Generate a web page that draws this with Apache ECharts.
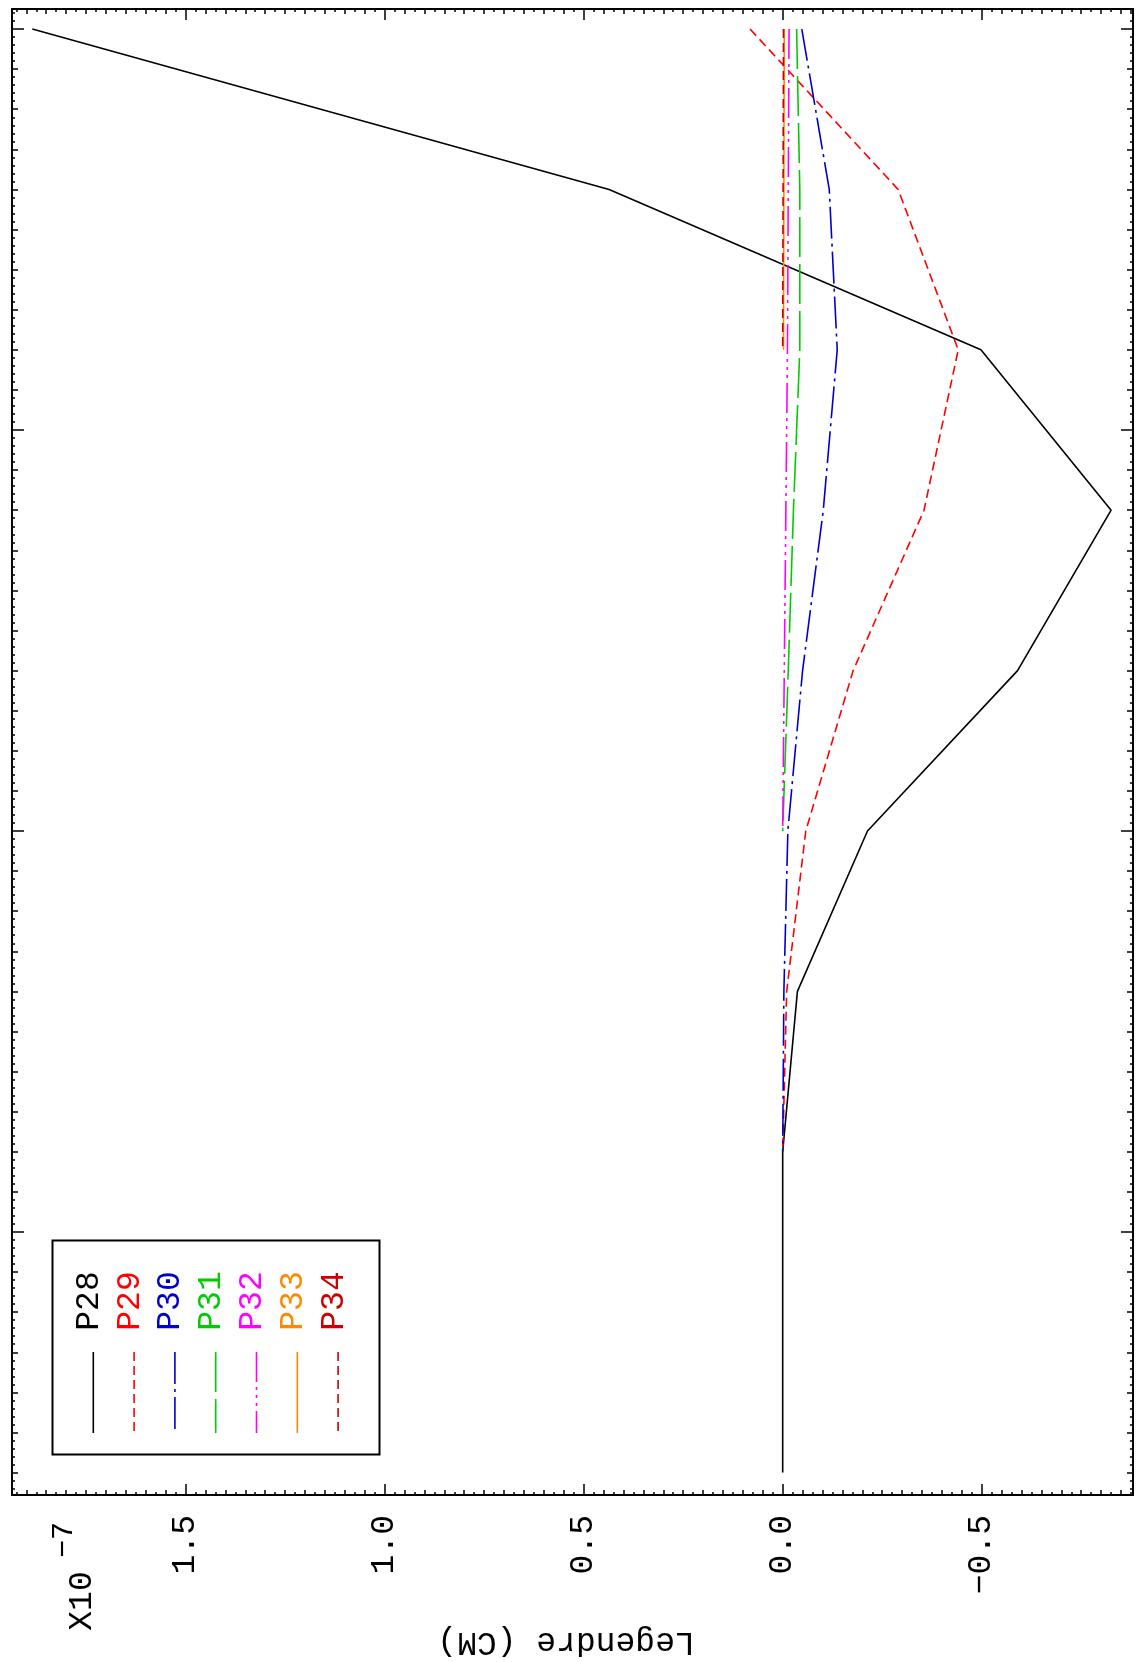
<!DOCTYPE html>
<html><head><meta charset="utf-8">
<script src="https://cdn.jsdelivr.net/npm/echarts@6/dist/echarts.min.js"></script>
<style>html,body{margin:0;padding:0;background:#fff}#c{width:1136px;height:1662px}</style>
</head><body><div id="c"></div>
<script>
// index positions (vertical axis, arbitrary units, top = highest)
const xVals = [200, 180, 160, 140, 120, 100, 80, 60, 40, 20];
// Legendre values in units of 1e-7 CM (horizontal axis)
const p28 = [1.885, 0.436, -0.498, -0.825, -0.590, -0.213, -0.037, 0.0, 0.0, 0.0];
const p29 = [0.082, -0.290, -0.441, -0.355, -0.177, -0.058, -0.010, 0.0];
const p30 = [-0.048, -0.117, -0.137, -0.102, -0.050, -0.013, -0.003, 0.0];
const p31 = [-0.035, -0.043, -0.043, -0.027, -0.014, 0.0];
const p32 = [-0.016, -0.014, -0.012, -0.008, -0.004, 0.0];
const p33 = [-0.004, -0.003, -0.002];
const p34 = [-0.002, -0.001, 0.0];
const seriesNames = ['P28', 'P29', 'P30', 'P31', 'P32', 'P33', 'P34'];
const seriesData = [p28, p29, p30, p31, p32, p33, p34];
const seriesColors = ['#000000', '#ff0000', '#0000cc', '#00cc00', '#ff00ff', '#ff8800', '#cc0000'];
const seriesDash = ['solid', [9, 5], [32, 5, 3, 5], [40, 7], [30, 5, 3, 5, 3, 5, 3, 5], 'solid', [9, 5]];
const valueTicks = [-0.5, 0.0, 0.5, 1.0, 1.5];
const valueAxisTitle = 'Legendre (CM)';
const scaleText = 'X10';
const scaleExp = '\u22127';

const vMin = -0.880, vMax = 1.936;
const iMin = 17.2, iMax = 202.5;

function ticksBetween(lo, hi, step, skipStep) {
  const out = [];
  const n0 = Math.ceil(lo / step - 1e-9), n1 = Math.floor(hi / step + 1e-9);
  for (let n = n0; n <= n1; n++) {
    const v = +(n * step).toFixed(6);
    if (skipStep && Math.abs(v / skipStep - Math.round(v / skipStep)) < 1e-6) continue;
    out.push(v);
  }
  return out;
}
const vMajor = valueTicks;
const vMed = ticksBetween(vMin, vMax, 0.05, 0.5);
const vMinor = ticksBetween(vMin, vMax, 0.025, 0.05);
const iMajor = ticksBetween(iMin, iMax, 50, 0);
const iMed = ticksBetween(iMin, iMax, 5, 50);
const iMinor = ticksBetween(iMin, iMax, 1, 5);

const FONT = '"Liberation Mono", "DejaVu Sans Mono", monospace';
function fmt(v) { return v.toFixed(1).replace('-', '\u2212'); }

function xAx(pos, ticks, len, showLine, showLabel) {
  return {
    type: 'value', position: pos, min: vMin, max: vMax, inverse: true,
    splitLine: { show: false },
    axisLine: { show: showLine, onZero: false, lineStyle: { color: '#000', width: 2 } },
    axisTick: { show: true, inside: true, length: len, customValues: ticks, lineStyle: { color: '#000', width: 1.5 } },
    axisLabel: showLabel ? {
      show: true, customValues: ticks, rotate: 90, margin: 20, padding: [0, 0, 12, 0],
      fontFamily: FONT, fontSize: 33, color: '#000', formatter: fmt
    } : { show: false }
  };
}
function yAx(pos, ticks, len, showLine) {
  return {
    type: 'value', position: pos, min: iMin, max: iMax,
    splitLine: { show: false },
    axisLine: { show: showLine, onZero: false, lineStyle: { color: '#000', width: 2 } },
    axisTick: { show: true, inside: true, length: len, customValues: ticks, lineStyle: { color: '#000', width: 1.5 } },
    axisLabel: { show: false }
  };
}

const series = seriesNames.map((name, s) => ({
  name, type: 'line', xAxisIndex: 0, yAxisIndex: 0,
  showSymbol: false, symbol: 'none', animation: false,
  lineStyle: { color: seriesColors[s], width: 1.6, type: seriesDash[s] },
  data: seriesData[s].map((v, i) => [v, xVals[i]])
}));

// legend drawn as graphics (rotated like the reference)
const legendEls = [{
  type: 'rect', shape: { x: 52.5, y: 1240.5, width: 327, height: 214 },
  style: { fill: 'none', stroke: '#000', lineWidth: 2 }
}];
seriesNames.forEach((name, s) => {
  const cx = 91 + 40.8 * s;
  legendEls.push({
    type: 'text', x: cx - 2, y: 1301, rotation: Math.PI / 2,
    style: { text: name, fill: seriesColors[s], font: '33px ' + FONT, align: 'center', verticalAlign: 'middle', textAlign: 'center', textVerticalAlign: 'middle' }
  });
  legendEls.push({
    type: 'line', shape: { x1: cx + 2.3, y1: 1352, x2: cx + 2.3, y2: 1433 },
    style: { stroke: seriesColors[s], lineWidth: 1.6, lineDash: Array.isArray(seriesDash[s]) ? seriesDash[s] : null }
  });
});
legendEls.push({
  type: 'text', x: 566, y: 1642, rotation: Math.PI,
  style: { text: valueAxisTitle, fill: '#000', font: '33px ' + FONT, align: 'center', verticalAlign: 'middle', textAlign: 'center', textVerticalAlign: 'middle' }
});
legendEls.push({
  type: 'text', x: 82, y: 1601, rotation: Math.PI / 2,
  style: { text: scaleText, fill: '#000', font: '33px ' + FONT, align: 'center', verticalAlign: 'middle', textAlign: 'center', textVerticalAlign: 'middle' }
});
legendEls.push({
  type: 'text', x: 64, y: 1540, rotation: Math.PI / 2,
  style: { text: scaleExp, fill: '#000', font: '30px ' + FONT, align: 'center', verticalAlign: 'middle', textAlign: 'center', textVerticalAlign: 'middle' }
});

const chart = echarts.init(document.getElementById('c'), null, { renderer: 'canvas' });
chart.setOption({
  animation: false,
  backgroundColor: '#ffffff',
  grid: { left: 12, right: 3, top: 9, bottom: 167, containLabel: false, outerBoundsMode: 'none' },
  xAxis: [
    xAx('bottom', vMajor, 11, true, true),
    xAx('bottom', vMed, 5, false, false),
    xAx('bottom', vMinor, 3, false, false),
    xAx('top', vMajor, 11, true, false),
    xAx('top', vMed, 5, false, false),
    xAx('top', vMinor, 3, false, false)
  ],
  yAxis: [
    yAx('left', iMajor, 12, true),
    yAx('left', iMed, 6, false),
    yAx('left', iMinor, 3, false),
    yAx('right', iMajor, 12, true),
    yAx('right', iMed, 6, false),
    yAx('right', iMinor, 3, false)
  ],
  series,
  graphic: legendEls
});
</script></body></html>
